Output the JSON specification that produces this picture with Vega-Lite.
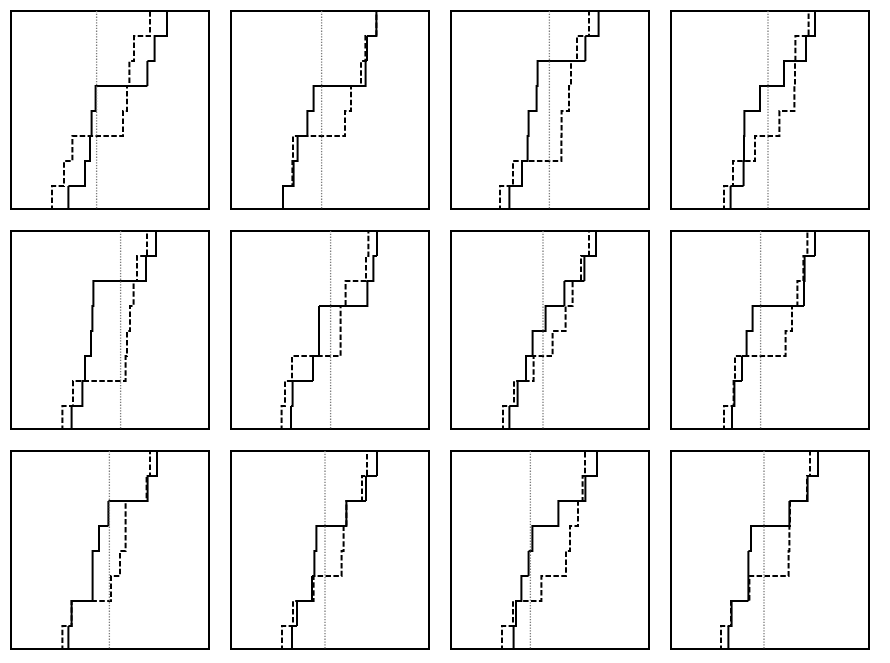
{
  "$schema": "https://vega.github.io/schema/vega-lite/v6.json",
  "background": "white",
  "padding": 10,
  "datasets": {
    "raw": [
      {"p":1,"s":"solid","k":0,"x":29.2},{"p":1,"s":"solid","k":1,"x":29.2},{"p":1,"s":"solid","k":2,"x":37.5},{"p":1,"s":"solid","k":3,"x":40},{"p":1,"s":"solid","k":4,"x":40.8},{"p":1,"s":"solid","k":5,"x":42.8},{"p":1,"s":"solid","k":6,"x":68.7},{"p":1,"s":"solid","k":7,"x":72.3},{"p":1,"s":"solid","k":8,"x":78.5},
      {"p":1,"s":"dashed","k":0,"x":21},{"p":1,"s":"dashed","k":1,"x":21},{"p":1,"s":"dashed","k":2,"x":27},{"p":1,"s":"dashed","k":3,"x":31.2},{"p":1,"s":"dashed","k":4,"x":56.5},{"p":1,"s":"dashed","k":5,"x":58.5},{"p":1,"s":"dashed","k":6,"x":59.7},{"p":1,"s":"dashed","k":7,"x":62},{"p":1,"s":"dashed","k":8,"x":70},
      {"p":1,"s":"mean","k":0,"x":43.3},

      {"p":2,"s":"solid","k":0,"x":26.5},{"p":2,"s":"solid","k":1,"x":26.5},{"p":2,"s":"solid","k":2,"x":31.8},{"p":2,"s":"solid","k":3,"x":33.8},{"p":2,"s":"solid","k":4,"x":38.7},{"p":2,"s":"solid","k":5,"x":41.8},{"p":2,"s":"solid","k":6,"x":67.8},{"p":2,"s":"solid","k":7,"x":68.5},{"p":2,"s":"solid","k":8,"x":73.2},
      {"p":2,"s":"dashed","k":0,"x":26.5},{"p":2,"s":"dashed","k":1,"x":26.5},{"p":2,"s":"dashed","k":2,"x":31.2},{"p":2,"s":"dashed","k":3,"x":31.5},{"p":2,"s":"dashed","k":4,"x":57.5},{"p":2,"s":"dashed","k":5,"x":60.5},{"p":2,"s":"dashed","k":6,"x":65.5},{"p":2,"s":"dashed","k":7,"x":67.7},{"p":2,"s":"dashed","k":8,"x":73.2},
      {"p":2,"s":"mean","k":0,"x":45.8},

      {"p":3,"s":"solid","k":0,"x":29.7},{"p":3,"s":"solid","k":1,"x":29.7},{"p":3,"s":"solid","k":2,"x":36},{"p":3,"s":"solid","k":3,"x":38.8},{"p":3,"s":"solid","k":4,"x":39.3},{"p":3,"s":"solid","k":5,"x":43.3},{"p":3,"s":"solid","k":6,"x":43.8},{"p":3,"s":"solid","k":7,"x":67.7},{"p":3,"s":"solid","k":8,"x":74.3},
      {"p":3,"s":"dashed","k":0,"x":25},{"p":3,"s":"dashed","k":1,"x":25},{"p":3,"s":"dashed","k":2,"x":31.5},{"p":3,"s":"dashed","k":3,"x":55.7},{"p":3,"s":"dashed","k":4,"x":55.8},{"p":3,"s":"dashed","k":5,"x":59.5},{"p":3,"s":"dashed","k":6,"x":60.5},{"p":3,"s":"dashed","k":7,"x":63.5},{"p":3,"s":"dashed","k":8,"x":69.5},
      {"p":3,"s":"mean","k":0,"x":49.7},

      {"p":4,"s":"solid","k":0,"x":30.3},{"p":4,"s":"solid","k":1,"x":30.3},{"p":4,"s":"solid","k":2,"x":36.8},{"p":4,"s":"solid","k":3,"x":37},{"p":4,"s":"solid","k":4,"x":37.2},{"p":4,"s":"solid","k":5,"x":45},{"p":4,"s":"solid","k":6,"x":57},{"p":4,"s":"solid","k":7,"x":68},{"p":4,"s":"solid","k":8,"x":72.5},
      {"p":4,"s":"dashed","k":0,"x":27},{"p":4,"s":"dashed","k":1,"x":27},{"p":4,"s":"dashed","k":2,"x":31.5},{"p":4,"s":"dashed","k":3,"x":42.5},{"p":4,"s":"dashed","k":4,"x":54.7},{"p":4,"s":"dashed","k":5,"x":62.2},{"p":4,"s":"dashed","k":6,"x":62.5},{"p":4,"s":"dashed","k":7,"x":62.7},{"p":4,"s":"dashed","k":8,"x":69.3},
      {"p":4,"s":"mean","k":0,"x":49},

      {"p":5,"s":"solid","k":0,"x":30.8},{"p":5,"s":"solid","k":1,"x":30.8},{"p":5,"s":"solid","k":2,"x":36.2},{"p":5,"s":"solid","k":3,"x":37.5},{"p":5,"s":"solid","k":4,"x":40.5},{"p":5,"s":"solid","k":5,"x":41.2},{"p":5,"s":"solid","k":6,"x":41.7},{"p":5,"s":"solid","k":7,"x":68},{"p":5,"s":"solid","k":8,"x":73},
      {"p":5,"s":"dashed","k":0,"x":26.2},{"p":5,"s":"dashed","k":1,"x":26.2},{"p":5,"s":"dashed","k":2,"x":31.5},{"p":5,"s":"dashed","k":3,"x":57.8},{"p":5,"s":"dashed","k":4,"x":58.5},{"p":5,"s":"dashed","k":5,"x":60},{"p":5,"s":"dashed","k":6,"x":61.8},{"p":5,"s":"dashed","k":7,"x":63.5},{"p":5,"s":"dashed","k":8,"x":68.5},
      {"p":5,"s":"mean","k":0,"x":55.3},

      {"p":6,"s":"solid","k":0,"x":30.5},{"p":6,"s":"solid","k":1,"x":30.5},{"p":6,"s":"solid","k":2,"x":31.3},{"p":6,"s":"solid","k":3,"x":41.5},{"p":6,"s":"solid","k":4,"x":44.5},{"p":6,"s":"solid","k":5,"x":44.5},{"p":6,"s":"solid","k":6,"x":68.7},{"p":6,"s":"solid","k":7,"x":71.7},{"p":6,"s":"solid","k":8,"x":73.5},
      {"p":6,"s":"dashed","k":0,"x":25.8},{"p":6,"s":"dashed","k":1,"x":25.8},{"p":6,"s":"dashed","k":2,"x":27.5},{"p":6,"s":"dashed","k":3,"x":31},{"p":6,"s":"dashed","k":4,"x":55.3},{"p":6,"s":"dashed","k":5,"x":55.3},{"p":6,"s":"dashed","k":6,"x":57.8},{"p":6,"s":"dashed","k":7,"x":68},{"p":6,"s":"dashed","k":8,"x":69.2},
      {"p":6,"s":"mean","k":0,"x":50.3},

      {"p":7,"s":"solid","k":0,"x":29.7},{"p":7,"s":"solid","k":1,"x":29.7},{"p":7,"s":"solid","k":2,"x":33.8},{"p":7,"s":"solid","k":3,"x":38},{"p":7,"s":"solid","k":4,"x":41.3},{"p":7,"s":"solid","k":5,"x":47.8},{"p":7,"s":"solid","k":6,"x":57.2},{"p":7,"s":"solid","k":7,"x":67.2},{"p":7,"s":"solid","k":8,"x":73},
      {"p":7,"s":"dashed","k":0,"x":26.5},{"p":7,"s":"dashed","k":1,"x":26.5},{"p":7,"s":"dashed","k":2,"x":32},{"p":7,"s":"dashed","k":3,"x":41.8},{"p":7,"s":"dashed","k":4,"x":51.3},{"p":7,"s":"dashed","k":5,"x":57.8},{"p":7,"s":"dashed","k":6,"x":61.3},{"p":7,"s":"dashed","k":7,"x":65.5},{"p":7,"s":"dashed","k":8,"x":69.5},
      {"p":7,"s":"mean","k":0,"x":46.5},

      {"p":8,"s":"solid","k":0,"x":31},{"p":8,"s":"solid","k":1,"x":31},{"p":8,"s":"solid","k":2,"x":32.2},{"p":8,"s":"solid","k":3,"x":36},{"p":8,"s":"solid","k":4,"x":38.3},{"p":8,"s":"solid","k":5,"x":41.3},{"p":8,"s":"solid","k":6,"x":67},{"p":8,"s":"solid","k":7,"x":67.3},{"p":8,"s":"solid","k":8,"x":72.5},
      {"p":8,"s":"dashed","k":0,"x":27},{"p":8,"s":"dashed","k":1,"x":27},{"p":8,"s":"dashed","k":2,"x":31.8},{"p":8,"s":"dashed","k":3,"x":32.5},{"p":8,"s":"dashed","k":4,"x":57.8},{"p":8,"s":"dashed","k":5,"x":61},{"p":8,"s":"dashed","k":6,"x":63.7},{"p":8,"s":"dashed","k":7,"x":66.7},{"p":8,"s":"dashed","k":8,"x":68.7},
      {"p":8,"s":"mean","k":0,"x":45.3},

      {"p":9,"s":"solid","k":0,"x":29.2},{"p":9,"s":"solid","k":1,"x":29.2},{"p":9,"s":"solid","k":2,"x":30.8},{"p":9,"s":"solid","k":3,"x":41.3},{"p":9,"s":"solid","k":4,"x":41.3},{"p":9,"s":"solid","k":5,"x":44.5},{"p":9,"s":"solid","k":6,"x":49.2},{"p":9,"s":"solid","k":7,"x":68.8},{"p":9,"s":"solid","k":8,"x":73.5},
      {"p":9,"s":"dashed","k":0,"x":26.2},{"p":9,"s":"dashed","k":1,"x":26.2},{"p":9,"s":"dashed","k":2,"x":30.8},{"p":9,"s":"dashed","k":3,"x":50.5},{"p":9,"s":"dashed","k":4,"x":55},{"p":9,"s":"dashed","k":5,"x":57.8},{"p":9,"s":"dashed","k":6,"x":57.8},{"p":9,"s":"dashed","k":7,"x":68.3},{"p":9,"s":"dashed","k":8,"x":70},
      {"p":9,"s":"mean","k":0,"x":49.7},

      {"p":10,"s":"solid","k":0,"x":31},{"p":10,"s":"solid","k":1,"x":31},{"p":10,"s":"solid","k":2,"x":33.5},{"p":10,"s":"solid","k":3,"x":41},{"p":10,"s":"solid","k":4,"x":42.2},{"p":10,"s":"solid","k":5,"x":43.2},{"p":10,"s":"solid","k":6,"x":58.2},{"p":10,"s":"solid","k":7,"x":68},{"p":10,"s":"solid","k":8,"x":73.5},
      {"p":10,"s":"dashed","k":0,"x":26},{"p":10,"s":"dashed","k":1,"x":26},{"p":10,"s":"dashed","k":2,"x":31.5},{"p":10,"s":"dashed","k":3,"x":41.8},{"p":10,"s":"dashed","k":4,"x":55.8},{"p":10,"s":"dashed","k":5,"x":56.8},{"p":10,"s":"dashed","k":6,"x":58.2},{"p":10,"s":"dashed","k":7,"x":66},{"p":10,"s":"dashed","k":8,"x":68.5},
      {"p":10,"s":"mean","k":0,"x":47.5},

      {"p":11,"s":"solid","k":0,"x":31.8},{"p":11,"s":"solid","k":1,"x":31.8},{"p":11,"s":"solid","k":2,"x":33},{"p":11,"s":"solid","k":3,"x":35.7},{"p":11,"s":"solid","k":4,"x":39.3},{"p":11,"s":"solid","k":5,"x":41.2},{"p":11,"s":"solid","k":6,"x":54.2},{"p":11,"s":"solid","k":7,"x":67.7},{"p":11,"s":"solid","k":8,"x":73.5},
      {"p":11,"s":"dashed","k":0,"x":26},{"p":11,"s":"dashed","k":1,"x":26},{"p":11,"s":"dashed","k":2,"x":31.5},{"p":11,"s":"dashed","k":3,"x":45.7},{"p":11,"s":"dashed","k":4,"x":58},{"p":11,"s":"dashed","k":5,"x":60},{"p":11,"s":"dashed","k":6,"x":64},{"p":11,"s":"dashed","k":7,"x":66.3},{"p":11,"s":"dashed","k":8,"x":67.5},
      {"p":11,"s":"mean","k":0,"x":40.2},

      {"p":12,"s":"solid","k":0,"x":29.2},{"p":12,"s":"solid","k":1,"x":29.2},{"p":12,"s":"solid","k":2,"x":30.8},{"p":12,"s":"solid","k":3,"x":39.2},{"p":12,"s":"solid","k":4,"x":39.2},{"p":12,"s":"solid","k":5,"x":40.5},{"p":12,"s":"solid","k":6,"x":59.7},{"p":12,"s":"solid","k":7,"x":68.8},{"p":12,"s":"solid","k":8,"x":74},
      {"p":12,"s":"dashed","k":0,"x":25.5},{"p":12,"s":"dashed","k":1,"x":25.5},{"p":12,"s":"dashed","k":2,"x":30.5},{"p":12,"s":"dashed","k":3,"x":39.7},{"p":12,"s":"dashed","k":4,"x":59.3},{"p":12,"s":"dashed","k":5,"x":59.7},{"p":12,"s":"dashed","k":6,"x":60},{"p":12,"s":"dashed","k":7,"x":68.5},{"p":12,"s":"dashed","k":8,"x":70},
      {"p":12,"s":"mean","k":0,"x":47}
    ]
  },
  "data": {"name": "raw"},
  "transform": [
    {"calculate": "floor((datum.p - 1) / 4)", "as": "r"},
    {"calculate": "(datum.p - 1) % 4", "as": "c"}
  ],
  "facet": {
    "row": {"field": "r", "type": "ordinal", "header": null},
    "column": {"field": "c", "type": "ordinal", "header": null}
  },
  "spacing": {"row": 20, "column": 20},
  "spec": {
    "width": 198,
    "height": 198,
    "layer": [
      {
        "transform": [{"filter": "datum.s !== 'mean'"}],
        "mark": {"type": "line", "interpolate": "step-after", "color": "black", "strokeWidth": 2, "clip": true},
        "encoding": {
          "x": {"field": "x", "type": "quantitative", "scale": {"domain": [0.5, 99.5]}, "axis": null},
          "y": {"field": "k", "type": "quantitative", "scale": {"domain": [0.08, 8], "zero": false}, "axis": null},
          "order": {"field": "k", "type": "quantitative"},
          "strokeDash": {"field": "s", "type": "nominal", "scale": {"domain": ["solid", "dashed"], "range": [[1, 0], [5.5, 2.4]]}, "legend": null}
        }
      },
      {
        "transform": [{"filter": "datum.s === 'mean'"}],
        "mark": {"type": "rule", "color": "#7a7a7a", "strokeWidth": 1.3, "strokeDash": [1.3, 1.5], "clip": true},
        "encoding": {
          "x": {"field": "x", "type": "quantitative", "scale": {"domain": [0.5, 99.5]}, "axis": null}
        }
      }
    ]
  },
  "config": {
    "view": {"stroke": "black", "strokeWidth": 2}
  }
}
